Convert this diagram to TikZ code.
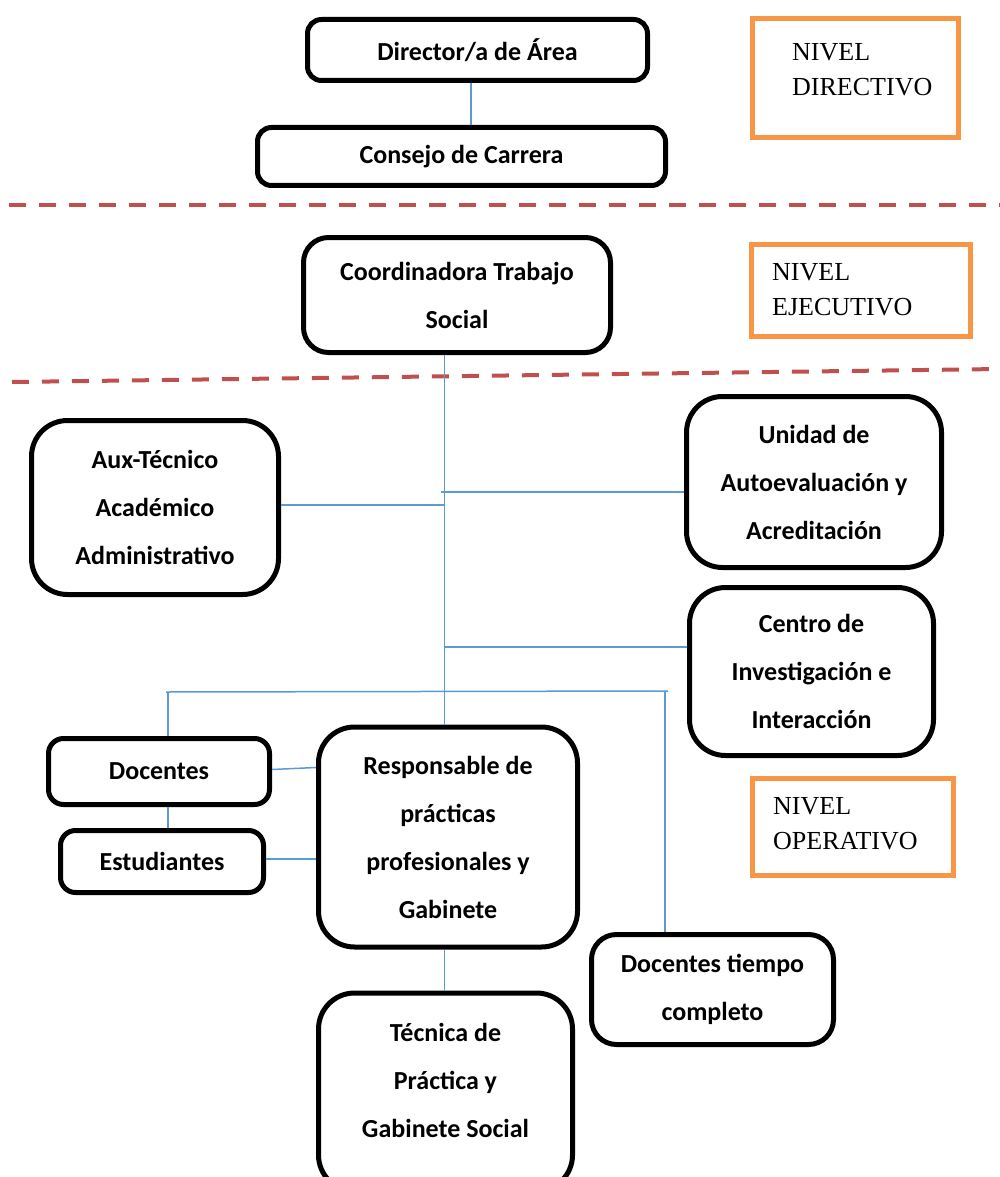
\documentclass[tikz,border=0pt]{standalone}
\usepackage{fontspec}
\newfontfamily\boxfont{Carlito}
\newfontfamily\lvlfont{Liberation Serif}
\definecolor{sepred}{HTML}{C0504D}
\definecolor{connblue}{HTML}{5B9BD5}
\definecolor{lvlorange}{HTML}{F79646}
\begin{document}
\begin{tikzpicture}[x=1pt,y=-1pt,
  orgbox/.style={draw=black, line width=5pt, fill=white, align=center, inner sep=0pt,
    font=\boxfont\bfseries\fontsize{26}{48}\selectfont},
  orgtext/.style={align=center, inner sep=0pt, font=\boxfont\bfseries\fontsize{26}{48}\selectfont},
  lvlbox/.style={draw=lvlorange, line width=5pt, inner sep=0pt},
  lvltext/.style={anchor=north west, align=left, inner sep=0pt,
    font=\lvlfont\fontsize{26}{35}\selectfont},
  conn/.style={draw=connblue, line width=1.5pt},
  sepline/.style={draw=sepred, line width=4pt, dash pattern=on 17pt off 13pt}]
\useasboundingbox (0,0) rectangle (1000,1177);

% separators
\draw[sepline] (9,205) -- (1000,205);
\draw[sepline] (12,382) -- (1000,369);

% level boxes
\node[lvlbox, minimum width=206pt, minimum height=119pt] (lvldir) at (855.5,78) {};
\node[lvltext] (lvldirt) at (792,42.8) {NIVEL\\DIRECTIVO};
\node[lvlbox, minimum width=219pt, minimum height=92pt] (lvleje) at (861,290.5) {};
\node[lvltext] (lvlejet) at (772,262.8) {NIVEL\\EJECUTIVO};
\node[lvlbox, minimum width=201pt, minimum height=97pt] (lvlop) at (853,827) {};
\node[lvltext] (lvlopt) at (773,796.8) {NIVEL\\OPERATIVO};

% junction coordinates
\coordinate (c1) at (471,0);
\coordinate (tx) at (444.5,0);
\coordinate (j1) at (444.5,505);
\coordinate (j2) at (441,492);
\coordinate (j3) at (444.5,647);
\coordinate (bl) at (166,692);
\coordinate (br) at (668,691);
\coordinate (dl) at (168,692);
\coordinate (dr) at (665,691);

% boxes
\path (477.5,50) node[orgbox, rounded corners=14pt, minimum width=340pt, minimum height=61pt] (dir) {Director/a de Área};
\path (461.5,156.5) node[orgbox, rounded corners=14pt, minimum width=408pt, minimum height=58pt] (cons) {Consejo de Carrera};
\path (457,295) node[orgbox, rounded corners=25pt, minimum width=307pt, minimum height=115pt] (coord) {Coordinadora Trabajo\\Social};
\path (155,507.5) node[orgbox, rounded corners=36pt, minimum width=247pt, minimum height=174pt] (aux) {Aux-Técnico\\Académico\\Administrativo};
\path (814,482) node[orgbox, rounded corners=36pt, minimum width=255pt, minimum height=171pt] (uni) {Unidad de\\Autoevaluación y\\Acreditación};
\path (811.5,671.5) node[orgbox, rounded corners=36pt, minimum width=244pt, minimum height=168pt] (cen) {Centro de\\Investigación e\\Interacción};
\path (159,771.5) node[orgbox, rounded corners=15pt, minimum width=221pt, minimum height=66pt] (doc) {Docentes};
\path (162,861.5) node[orgbox, rounded corners=15pt, minimum width=203pt, minimum height=62pt] (est) {Estudiantes};
\path (448,837) node[orgbox, rounded corners=36pt, minimum width=259pt, minimum height=220pt] (resp) {Responsable de\\prácticas\\profesionales y\\Gabinete};
\path (712.5,989.5) node[orgbox, rounded corners=25pt, minimum width=242pt, minimum height=110pt] (dtc) {Docentes tiempo\\completo};
\path (445.5,1092) node[orgbox, rounded corners=36pt, minimum width=254pt, minimum height=198pt] (tec) {};
\node[orgtext] (tect) at (445.5,1080) {Técnica de\\Práctica y\\Gabinete Social};

% connectors
\draw[conn] (dir.south -| c1) -- (cons.north -| c1);
\draw[conn] (coord.south -| tx) -- (resp.north -| tx);
\draw[conn] (aux.east |- j1) -- (j1);
\draw[conn] (j2) -- (j2 -| uni.west);
\draw[conn] (j3) -- (j3 -| cen.west);
\draw[conn] (bl) -- (br);
\draw[conn] (dl) -- (dl |- doc.north);
\draw[conn] (dr) -- (dr |- dtc.north);
\draw[conn] ([yshift=2pt]doc.east) -- ([yshift=4pt]doc.east -| resp.west);
\draw[conn] ([yshift=2.5pt]est.east) -- ([yshift=2.5pt]est.east -| resp.west);
\draw[conn] (doc.south -| dl) -- (est.north -| dl);
\draw[conn] (resp.south -| tx) -- (tec.north -| tx);
\end{tikzpicture}
\end{document}
